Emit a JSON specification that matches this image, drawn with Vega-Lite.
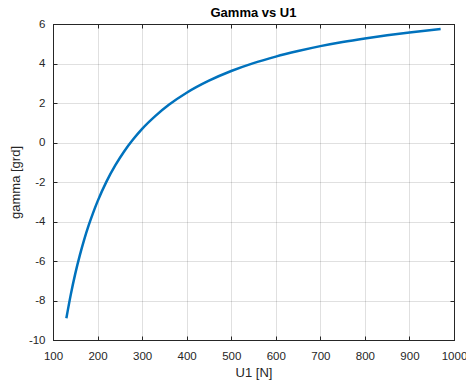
{
  "$schema": "https://vega.github.io/schema/vega-lite/v6.json",
  "width": 401,
  "height": 316,
  "autosize": {"type": "none"},
  "padding": {"left": 53, "top": 24, "right": 12, "bottom": 42},
  "background": "white",
  "title": {
    "text": "Gamma vs U1",
    "font": "Liberation Sans",
    "fontSize": 13,
    "fontWeight": "bold",
    "color": "#000000",
    "offset": -2,
    "anchor": "middle"
  },
  "config": {
    "view": {"stroke": "#262626", "strokeWidth": 1},
    "axis": {
      "labelFont": "Liberation Sans",
      "labelFontSize": 11.5,
      "labelColor": "#262626",
      "labelFlush": false,
      "labelExpr": "'' + datum.value",
      "titleFont": "Liberation Sans",
      "titleFontSize": 13,
      "titleFontWeight": "normal",
      "titleColor": "#262626",
      "domainColor": "#262626",
      "tickColor": "#262626",
      "gridColor": "#000000",
      "gridOpacity": 0.12,
      "tickSize": -4
    }
  },
  "data": {
    "values": [
      {"U1": 130, "gamma": -8.90},
      {"U1": 140, "gamma": -7.69},
      {"U1": 150, "gamma": -6.64},
      {"U1": 160, "gamma": -5.73},
      {"U1": 170, "gamma": -4.92},
      {"U1": 180, "gamma": -4.20},
      {"U1": 190, "gamma": -3.56},
      {"U1": 200, "gamma": -2.98},
      {"U1": 220, "gamma": -1.98},
      {"U1": 240, "gamma": -1.15},
      {"U1": 260, "gamma": -0.44},
      {"U1": 280, "gamma": 0.16},
      {"U1": 300, "gamma": 0.69},
      {"U1": 330, "gamma": 1.35},
      {"U1": 360, "gamma": 1.91},
      {"U1": 400, "gamma": 2.52},
      {"U1": 450, "gamma": 3.13},
      {"U1": 500, "gamma": 3.62},
      {"U1": 550, "gamma": 4.02},
      {"U1": 600, "gamma": 4.35},
      {"U1": 650, "gamma": 4.63},
      {"U1": 700, "gamma": 4.88},
      {"U1": 750, "gamma": 5.09},
      {"U1": 800, "gamma": 5.27},
      {"U1": 850, "gamma": 5.43},
      {"U1": 900, "gamma": 5.57},
      {"U1": 950, "gamma": 5.70},
      {"U1": 970, "gamma": 5.75}
    ]
  },
  "layer": [
    {
      "mark": {"type": "line", "color": "#0072BD", "strokeWidth": 2.5, "interpolate": "monotone"},
      "encoding": {
        "x": {
          "field": "U1", "type": "quantitative",
          "scale": {"domain": [100, 1000], "nice": false},
          "axis": {"title": "U1 [N]", "values": [100,200,300,400,500,600,700,800,900,1000], "labelPadding": 14, "titlePadding": 5}
        },
        "y": {
          "field": "gamma", "type": "quantitative",
          "scale": {"domain": [-10, 6], "nice": false},
          "axis": {"title": "gamma [grd]", "values": [-10,-8,-6,-4,-2,0,2,4,6], "labelPadding": 12, "titlePadding": 6}
        }
      }
    },
    {
      "mark": {"type": "line", "opacity": 0},
      "encoding": {
        "x": {
          "field": "U1", "type": "quantitative",
          "scale": {"domain": [100, 1000], "nice": false},
          "axis": {"orient": "top", "title": null, "labels": false, "grid": false, "values": [100,200,300,400,500,600,700,800,900,1000]}
        },
        "y": {
          "field": "gamma", "type": "quantitative",
          "scale": {"domain": [-10, 6], "nice": false},
          "axis": {"orient": "right", "title": null, "labels": false, "grid": false, "values": [-10,-8,-6,-4,-2,0,2,4,6]}
        }
      }
    }
  ],
  "resolve": {"axis": {"x": "independent", "y": "independent"}}
}
